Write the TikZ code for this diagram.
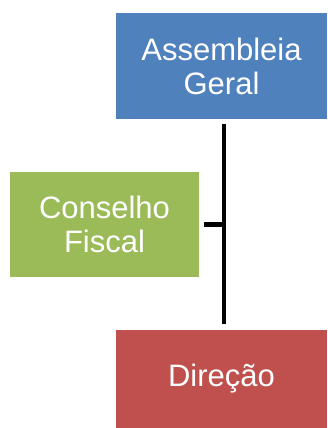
\documentclass[tikz,border=0pt]{standalone}
\usepackage{fontspec}
\setmainfont{Liberation Sans}
\definecolor{boxblue}{HTML}{4F81BD}
\definecolor{boxgreen}{HTML}{9BBB59}
\definecolor{boxred}{HTML}{C0504D}
\tikzset{
  orgbox/.style={rectangle, inner sep=0pt, text=white, align=center,
    font=\fontsize{31}{34}\selectfont},
  conn/.style={line width=4.5pt, black}
}
\begin{document}
\begin{tikzpicture}[x=1pt,y=-1pt]
\useasboundingbox (0,0) rectangle (327,428);
\node[orgbox, fill=boxblue, minimum width=211pt, minimum height=106pt] (A) at (221.5,66) {Assembleia\\Geral};
\node[orgbox, fill=boxgreen, minimum width=189pt, minimum height=105pt] (C) at (104.5,224.5) {Conselho\\Fiscal};
\node[orgbox, fill=boxred, minimum width=211pt, minimum height=98pt] (D) at (221.5,379) {Direção};
\coordinate (J) at (224,224.5);
\draw[conn, shorten <=5pt, shorten >=6pt] ([xshift=2.5pt]A.south) -- ([xshift=2.5pt]D.north);
\draw[conn, shorten <=5pt] (C.east) -- (J);
\end{tikzpicture}
\end{document}
